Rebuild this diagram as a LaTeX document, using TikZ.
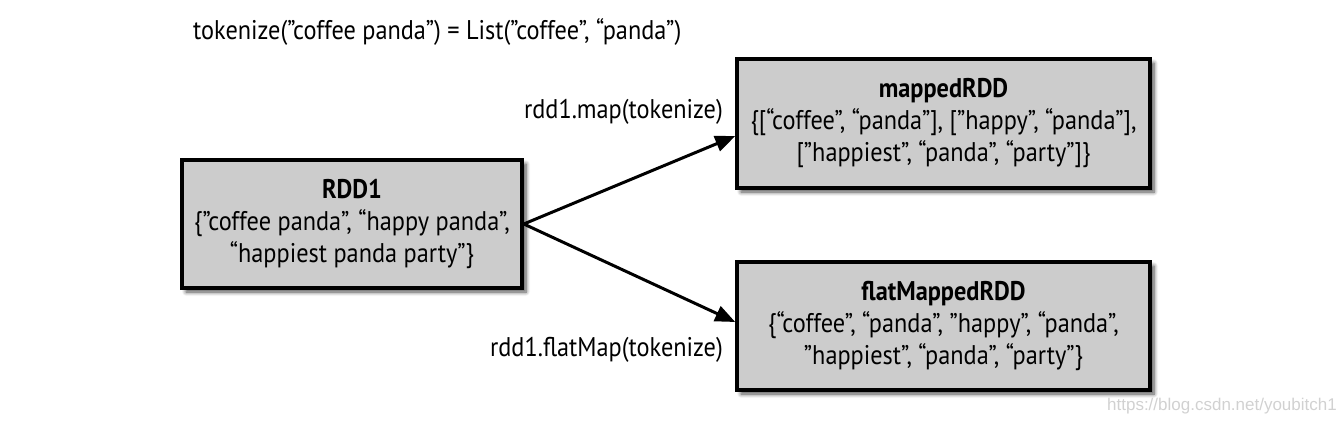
\documentclass[tikz,border=0pt]{standalone}
\usepackage{fontspec}
\setmainfont{PT Sans}[FakeStretch=0.9]
\usetikzlibrary{arrows.meta,shadows.blur}
\definecolor{boxgray}{HTML}{CCCCCC}
\tikzset{
  rddbox/.style={draw=black, line width=3.5pt, fill=boxgray, align=center,
    blur shadow={shadow xshift=4pt, shadow yshift=-4pt, shadow blur steps=6, shadow blur radius=4pt, shadow opacity=70},
    font=\fontsize{27}{32}\selectfont, inner sep=0pt},
  lbl/.style={font=\fontsize{27}{32}\selectfont, inner sep=0pt},
  conn/.style={line width=3pt, -{Triangle[length=20pt,width=16pt]}},
}
\begin{document}
\begin{tikzpicture}[x=1pt,y=-1pt]
\useasboundingbox (0,0) rectangle (1344,425);
\node[lbl, anchor=west] (title) at (193,32) {tokenize(”coffee panda”) = List(”coffee”, “panda”)};
\node[rddbox, minimum width=340pt, minimum height=128pt] (rdd1) at (352,224)
  {\textbf{RDD1}\\\{”coffee panda”, “happy panda”,\\“happiest panda party”\}};
\node[rddbox, minimum width=413pt, minimum height=129pt] (mapped) at (943.5,123.5)
  {\textbf{mappedRDD}\\\{[“coffee”, “panda”], [”happy”, “panda”],\\{}[”happiest”, “panda”, “party”]\}};
\node[rddbox, minimum width=413pt, minimum height=128pt] (flat) at (943.5,326)
  {\textbf{flatMappedRDD}\\\{“coffee”, “panda”, ”happy”, “panda”,\\”happiest”, “panda”, “party”\}};
\coordinate (src) at (rdd1.east);
\draw[conn] (src) -- (mapped.west |- 0,136);
\draw[conn] (src) -- (flat.west |- 0,322);
\node[lbl, anchor=east] (lmap) at (723,112) {rdd1.map(tokenize)};
\node[lbl, anchor=east] (lflat) at (723,350) {rdd1.flatMap(tokenize)};
\node[anchor=east, inner sep=0pt, text=black!18, font=\fontspec{Liberation Sans}\fontsize{17}{20}\selectfont] (wm) at (1337,406) {https://blog.csdn.net/youbitch1};
\end{tikzpicture}
\end{document}
